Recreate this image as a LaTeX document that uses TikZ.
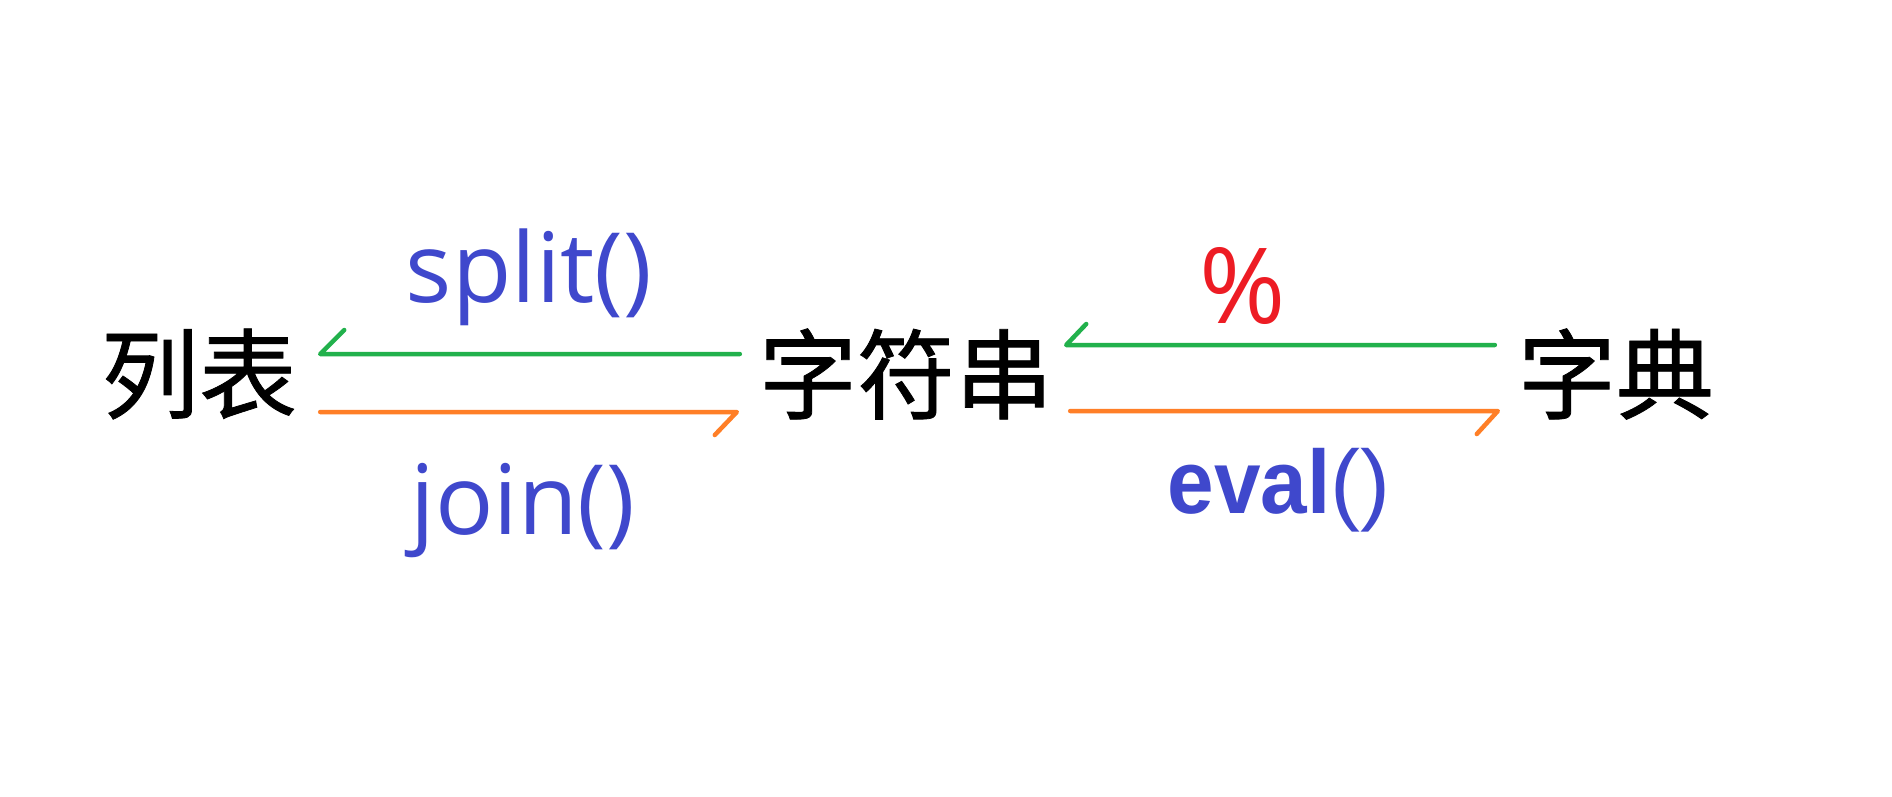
\documentclass[tikz,border=0pt]{standalone}
\usepackage{fontspec}
\newfontfamily\cjk{Noto Sans CJK SC}[FakeBold=0.8]
\newfontfamily\opensans{Open Sans}
\newfontfamily\libsans{Liberation Sans}
\usetikzlibrary{calc}
\definecolor{pgreen}{HTML}{22B14C}
\definecolor{porange}{HTML}{FF7F27}
\definecolor{pred}{HTML}{ED1C24}
\definecolor{pindigo}{HTML}{3F48CC}
\tikzset{
  word/.style={inner sep=0pt, anchor=center, font=\cjk\fontsize{98}{110}\selectfont, text=black},
  lbl/.style={inner sep=0pt, anchor=base, text=pindigo, font=\opensans\fontsize{97}{110}\selectfont},
  pct/.style={inner sep=0pt, anchor=base, text=pred, font=\opensans\fontsize{105}{120}\selectfont},
  evallbl/.style={inner sep=0pt, anchor=base, text=pindigo, font=\libsans\fontsize{90}{100}\selectfont},
  gline/.style={draw=pgreen, line width=4.5pt, line cap=round, line join=round},
  oline/.style={draw=porange, line width=4.5pt, line cap=round, line join=round}
}
\begin{document}
\begin{tikzpicture}[x=1pt,y=-1pt]
\fill[white] (0,0) rectangle (1892,796);
\useasboundingbox (0,0) rectangle (1892,796);
\node[word] (l) at (199,374) {列表};
\node[word] (s) at (906,374) {字符串};
\node[word] (d) at (1616,374) {字典};
\node[lbl] (split) at (529,302) {split()};
\node[lbl] (join) at (523,534) {join()};
\node[pct] (pc) at (1243,323) {\%};
\node[evallbl] (eval) at (1279,513) {\scalebox{0.93}[1]{\textbf{eval}}()};
% list <-> string
\draw[gline] ($(s.west)+(-19,-20)$) -- ($(l.east)+(23,-20)$) -- ++(24,-24);
\draw[oline] ($(l.east)+(23,38)$) -- ($(s.west)+(-22,38)$) -- ++(-22,23);
% string <-> dict
\draw[gline] ($(d.west)+(-23,-29)$) -- ($(s.east)+(13,-29)$) -- ++(20,-21);
\draw[oline] ($(s.east)+(17,37)$) -- ($(d.west)+(-20,37)$) -- ++(-21,23);
\end{tikzpicture}
\end{document}
